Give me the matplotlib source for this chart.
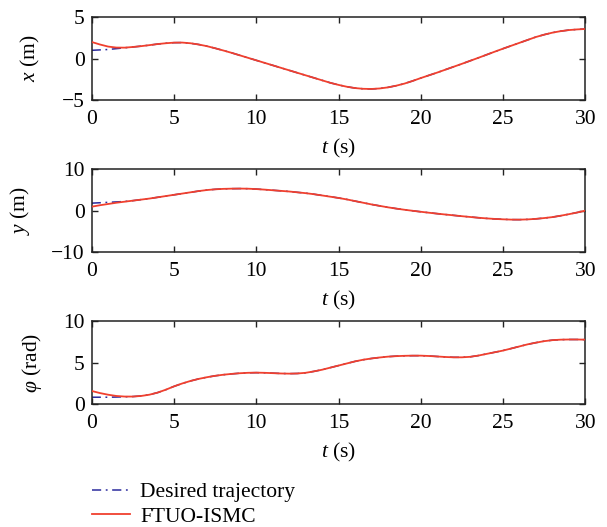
import numpy as np
import matplotlib
matplotlib.use("Agg")
import matplotlib.pyplot as plt

plt.rcParams["font.family"] = ["Liberation Serif", "DejaVu Serif"]
plt.rcParams["mathtext.fontset"] = "custom"
plt.rcParams["mathtext.it"] = "Liberation Serif:italic"
plt.rcParams["mathtext.rm"] = "Liberation Serif"

# time grid (s)
t = np.arange(0, 30.01, 0.5)

# desired trajectory
x_desired = [1.0, 1.05, 1.1, 1.2, 1.3, 1.4, 1.5, 1.62, 1.75, 1.85, 1.92, 1.93, 1.85, 1.7, 1.5,
             1.25, 0.98, 0.7, 0.4, 0.1, -0.2, -0.5, -0.8, -1.1, -1.4, -1.7, -2.0, -2.3, -2.6,
             -2.9, -3.15, -3.37, -3.53, -3.62, -3.64, -3.58, -3.45, -3.25, -3.0, -2.68, -2.33,
             -2.0, -1.67, -1.32, -0.97, -0.62, -0.26, 0.1, 0.47, 0.84, 1.2, 1.55, 1.9, 2.25,
             2.6, 2.88, 3.12, 3.3, 3.43, 3.51, 3.56]
y_desired = [1.8, 1.9, 2.0, 2.1, 2.2, 2.4, 2.65, 2.9, 3.2, 3.5, 3.8, 4.1, 4.4, 4.7, 4.95,
             5.12, 5.23, 5.28, 5.3, 5.27, 5.18, 5.05, 4.9, 4.75, 4.6, 4.4, 4.2, 3.95, 3.65,
             3.35, 3.05, 2.7, 2.3, 1.9, 1.5, 1.15, 0.8, 0.5, 0.22, -0.03, -0.27, -0.5, -0.72,
             -0.93, -1.13, -1.33, -1.52, -1.7, -1.86, -1.99, -2.08, -2.15, -2.16, -2.1, -1.97,
             -1.78, -1.55, -1.22, -0.85, -0.45, 0.0]
phi_desired = [0.85, 0.85, 0.85, 0.87, 0.9, 0.93, 1.0, 1.15, 1.4, 1.75, 2.15, 2.5, 2.8, 3.05,
               3.25, 3.42, 3.55, 3.65, 3.73, 3.78, 3.8, 3.78, 3.74, 3.7, 3.68, 3.7, 3.78, 3.95,
               4.15, 4.4, 4.65, 4.9, 5.15, 5.35, 5.5, 5.62, 5.72, 5.78, 5.82, 5.84, 5.84, 5.8,
               5.74, 5.68, 5.64, 5.64, 5.7, 5.85, 6.05, 6.25, 6.45, 6.7, 6.95, 7.2, 7.4, 7.58,
               7.7, 7.76, 7.78, 7.78, 7.76]

# FTUO-ISMC response during the initial transient (t = 0 ... 2 s); it tracks the
# desired trajectory afterwards
x_transient = [2.0, 1.7, 1.45, 1.33, 1.32]
y_transient = [0.95, 1.3, 1.6, 1.9, 2.15]
phi_transient = [1.6, 1.35, 1.15, 1.0, 0.93]

n0 = len(x_transient)
x_actual = x_transient + x_desired[n0:]
y_actual = y_transient + y_desired[n0:]
phi_actual = phi_transient + phi_desired[n0:]

labels = ["Desired trajectory", "FTUO-ISMC"]
blue = "#2b2b9e"
red = "#f0402e"
fs = 15.5

W, H = 607, 527
fig = plt.figure(figsize=(W / 100, H / 100), dpi=100)

panels = [
    (x_desired, x_actual, r"$x$ (m)", (-5, 5), [-5, 0, 5], 17, 100.3),
    (y_desired, y_actual, r"$y$ (m)", (-10, 10), [-10, 0, 10], 169, 252.3),
    (phi_desired, phi_actual, r"$\varphi$ (rad)", (0, 10), [0, 5, 10], 321, 404.3),
]

left_px, right_px = 91.7, 585.3
axes = []
for des, act, ylab, ylim, yt, top_px, bot_px in panels:
    ax = fig.add_axes([left_px / W, 1 - bot_px / H, (right_px - left_px) / W,
                       (bot_px - top_px) / H])
    ax.plot(t, des, color=blue, lw=1.1, ls=(0, (6, 3, 1.2, 3)), label=labels[0], zorder=2)
    ax.plot(t, act, color=red, lw=1.3, label=labels[1], zorder=3)
    ax.set_xlim(0, 30)
    ax.set_ylim(*ylim)
    ax.set_xticks([0, 5, 10, 15, 20, 25, 30])
    ax.set_yticks(yt)
    ax.set_yticklabels([str(v).replace("-", "\u2212") for v in yt])
    ax.tick_params(direction="in", top=True, right=True, length=4, width=1,
                   labelsize=fs, color="#222222")
    ax.tick_params(axis="x", pad=7)
    ax.tick_params(axis="y", pad=5)
    for s in ax.spines.values():
        s.set_linewidth(1.1)
        s.set_color("#222222")
    ax.set_xlabel(r"$t$ (s)", fontsize=fs, labelpad=6)
    ax.set_ylabel(ylab, fontsize=fs, labelpad=14)
    axes.append(ax)

handles, labs = axes[0].get_legend_handles_labels()
fig.legend(handles, labs, loc="upper left", bbox_to_anchor=(92 / W, 1 - 482 / H),
           frameon=False, fontsize=fs, handlelength=1.75, handletextpad=0.5,
           labelspacing=0.22, borderpad=0, borderaxespad=0)

fig.savefig("out.png", dpi=100)
